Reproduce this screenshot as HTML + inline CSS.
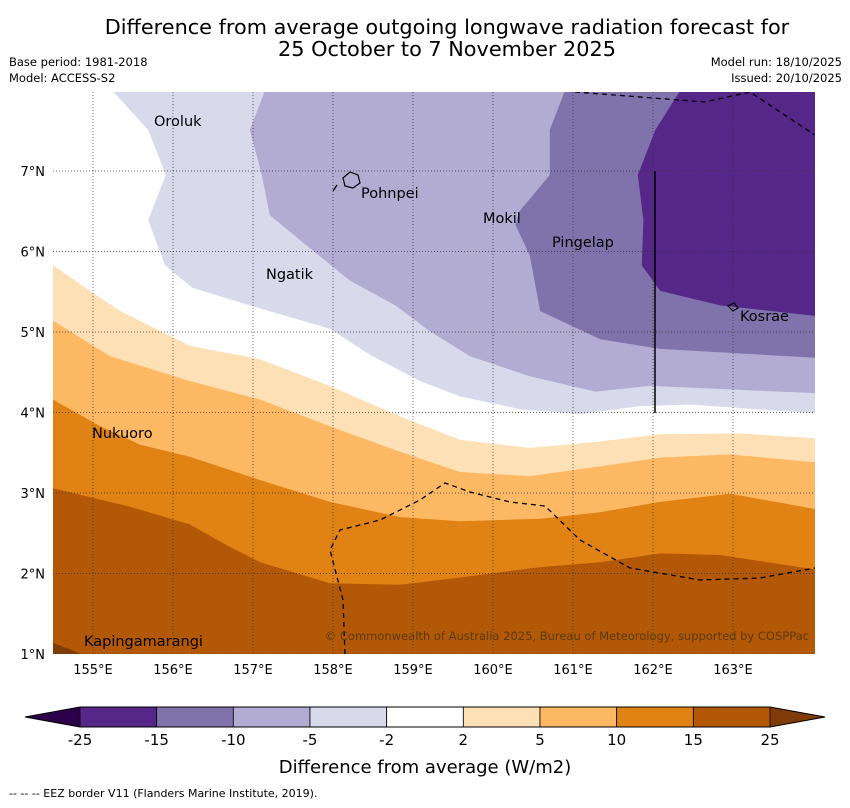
<!DOCTYPE html>
<html><head><meta charset="utf-8"><style>
body{margin:0;background:#fff;font-family:"DejaVu Sans","Liberation Sans",sans-serif;}
svg text{font-family:"DejaVu Sans","Liberation Sans",sans-serif;}
</style></head><body>
<svg id="chart" width="850" height="804" viewBox="0 0 850 804" xmlns="http://www.w3.org/2000/svg">
<text x="447" y="34" font-size="20.8" text-anchor="middle">Difference from average outgoing longwave radiation forecast for</text>
<text x="447" y="56" font-size="20.8" text-anchor="middle">25 October to 7 November 2025</text>
<text x="9" y="66" font-size="11.5">Base period: 1981-2018</text>
<text x="9" y="82" font-size="11.5">Model: ACCESS-S2</text>
<text x="842" y="66" font-size="11.5" text-anchor="end">Model run: 18/10/2025</text>
<text x="842" y="82" font-size="11.5" text-anchor="end">Issued: 20/10/2025</text>
<defs><clipPath id="plotclip"><rect x="53" y="92" width="762" height="562"/></clipPath></defs>
<g id="plot" clip-path="url(#plotclip)">
<rect x="53" y="92" width="762" height="562" fill="#ffffff"/>
<g id="fills"></g>
<g id="grid"></g>
<path d="M575,92 L705,102 L750,92 L815,135" fill="none" stroke="#000" stroke-width="1.3" stroke-dasharray="5,4"/>
<path d="M345,654 L343,600 L330,550 L340,530 L380,520 L420,500 L445,483 L470,492 L510,502 L545,506 L580,540 L630,568 L700,580 L760,578 L815,568" fill="none" stroke="#000" stroke-width="1.3" stroke-dasharray="5,4"/>
<path d="M333,191 L337,185" fill="none" stroke="#000" stroke-width="1.3"/>
<line x1="655" y1="171" x2="655" y2="413" stroke="#000" stroke-width="1.5"/>
<path d="M343,178 L350,172 L358,175 L360,183 L353,188 L345,186 Z" fill="none" stroke="#000" stroke-width="1.2"/>
<path d="M728,306 L734,303 L738,308 L733,311 Z" fill="none" stroke="#000" stroke-width="1.2"/>
<g font-size="14.5">
<text x="154" y="126">Oroluk</text>
<text x="361" y="198">Pohnpei</text>
<text x="483" y="223">Mokil</text>
<text x="552" y="247">Pingelap</text>
<text x="266" y="279">Ngatik</text>
<text x="740" y="321">Kosrae</text>
<text x="92" y="438">Nukuoro</text>
<text x="84" y="646">Kapingamarangi</text>
</g>
<text x="809" y="640" font-size="11.5" text-anchor="end" fill="#5a3a10">© Commonwealth of Australia 2025, Bureau of Meteorology, supported by COSPPac</text>
</g>
<g id="axes"></g>
<g id="colorbar"></g>
<text x="425" y="773" font-size="18" text-anchor="middle">Difference from average (W/m2)</text>
<text x="9" y="797" font-size="11">--  --  -- EEZ border V11 (Flanders Marine Institute, 2019).</text>
</svg>
<script>
const lvlM2Lon=[155.24,155.69,155.91,155.69,155.9,156.24,156.96,157.96,158.49,159.09,159.59,160.34,161.09,161.84,162.46,164.03];
const lvlM2Lat=[8.0,7.51,6.95,6.39,5.83,5.55,5.33,5.04,4.7,4.39,4.2,4.04,3.98,4.08,4.1,3.99];
const lvlM5Lon=[157.15,156.96,157.11,157.21,157.59,158.21,158.78,159.21,159.71,160.46,161.28,161.96,164.03];
const lvlM5Lat=[8.0,7.51,6.95,6.45,6.14,5.64,5.33,5.01,4.7,4.45,4.26,4.33,4.24];
const lvlM10Lon=[160.9,160.71,160.71,160.34,160.28,160.46,160.59,161.34,162.09,164.03];
const lvlM10Lat=[8.0,7.51,6.95,6.51,6.33,5.95,5.26,4.91,4.79,4.68];
const lvlM15Lon=[162.34,162.03,161.81,161.88,161.86,162.09,162.84,164.03];
const lvlM15Lat=[8.0,7.51,6.95,6.39,5.83,5.51,5.33,5.2];
const lvlP2Lon=[154.5,154.96,155.34,156.21,157.09,157.96,158.84,159.59,160.46,161.34,162.09,163.09,164.03];
const lvlP2Lat=[5.83,5.51,5.26,4.83,4.66,4.33,3.95,3.66,3.56,3.64,3.73,3.74,3.68];
const lvlP5Lon=[154.5,155.21,156.21,157.09,157.96,158.84,159.59,160.46,161.34,162.09,162.96,164.03];
const lvlP5Lat=[5.14,4.7,4.39,4.16,3.83,3.51,3.26,3.21,3.33,3.44,3.48,3.38];
const lvlP10Lon=[154.5,155.09,155.59,156.21,157.09,157.96,158.84,159.59,160.59,161.34,162.09,162.96,164.03];
const lvlP10Lat=[4.16,3.83,3.6,3.45,3.16,2.89,2.7,2.65,2.68,2.76,2.89,2.99,2.8];
const lvlP15Lon=[154.5,155.46,156.21,156.71,157.09,157.96,158.84,159.59,160.59,161.34,162.09,162.84,164.03];
const lvlP15Lat=[3.06,2.83,2.61,2.33,2.14,1.88,1.86,1.95,2.08,2.14,2.25,2.23,2.05];
const lvlP25Lon=[154.5,154.96];
const lvlP25Lat=[1.14,0.96];
const lonTicks=[155,156,157,158,159,160,161,162,163];
const latTicks=[1,2,3,4,5,6,7];
const cbLevels=["-25","-15","-10","-5","-2","2","5","10","15","25"];
const cbColors=["#542788","#8073ac","#b2abd2","#d8daeb","#ffffff","#fee0b6","#fdb863","#e08214","#b35806"];

const X=lon=>53+(lon-154.5)*80;
const Y=lat=>171+(7-lat)*80.5;
const NS="http://www.w3.org/2000/svg";
function mk(tag,attrs,parent){const e=document.createElementNS(NS,tag);for(const k in attrs)e.setAttribute(k,attrs[k]);parent.appendChild(e);return e;}
const fills=document.getElementById('fills');
function band(lons,lats,toTop,color,name){
  let d="M"+lons.map((l,i)=>X(l).toFixed(1)+","+Y(lats[i]).toFixed(1)).join(" L");
  const last=X(lons[lons.length-1]), first=X(lons[0]);
  if(toTop){d+=` L${last+40},${Y(lats[lats.length-1])} L${last+40},60 L${first},60 Z`;}
  else{d+=` L${last+40},${Y(lats[lats.length-1])} L${last+40},700 L${first-40},700 L${first-40},${Y(lats[0])} Z`;}
  const p=mk('path',{d:d,fill:color,stroke:'none'},fills);
  
  
}
band(lvlM2Lon,lvlM2Lat,true,cbColors[3],'band-minus2-to-minus5');
band(lvlM5Lon,lvlM5Lat,true,cbColors[2],'band-minus5-to-minus10');
band(lvlM10Lon,lvlM10Lat,true,cbColors[1],'band-minus10-to-minus15');
band(lvlM15Lon,lvlM15Lat,true,cbColors[0],'band-minus15-to-minus25');
band(lvlP2Lon,lvlP2Lat,false,cbColors[5],'band-2-to-5');
band(lvlP5Lon,lvlP5Lat,false,cbColors[6],'band-5-to-10');
band(lvlP10Lon,lvlP10Lat,false,cbColors[7],'band-10-to-15');
band(lvlP15Lon,lvlP15Lat,false,cbColors[8],'band-15-to-25');
band(lvlP25Lon,lvlP25Lat,false,'#7f3b08','band-above-25');

const grid=document.getElementById('grid');
lonTicks.forEach(l=>{const g=mk('line',{x1:X(l),x2:X(l),y1:92,y2:654,stroke:'#333','stroke-width':0.7,'stroke-dasharray':'1,2'},grid);

});
latTicks.forEach(l=>{const g=mk('line',{x1:53,x2:815,y1:Y(l),y2:Y(l),stroke:'#333','stroke-width':0.7,'stroke-dasharray':'1,2'},grid);

});

const axes=document.getElementById('axes');
lonTicks.forEach(l=>{const t=mk('text',{x:X(l),y:674,'font-size':13,'text-anchor':'middle'},axes);t.textContent=l+"°E";

});
latTicks.forEach(l=>{const t=mk('text',{x:45,y:Y(l)+5,'font-size':13,'text-anchor':'end'},axes);t.textContent=l+"°N";

});

const cb=document.getElementById('colorbar');
const cx0=80,cx1=770,cy=707,ch=20,n=cbColors.length,w=(cx1-cx0)/n;
const lt=mk('polygon',{points:`25,${cy+ch/2} ${cx0},${cy} ${cx0},${cy+ch}`,fill:'#2d004b'},cb);


const rt=mk('polygon',{points:`825,${cy+ch/2} ${cx1},${cy} ${cx1},${cy+ch}`,fill:'#7f3b08'},cb);


cbColors.forEach((c,i)=>{const r=mk('rect',{x:cx0+i*w,y:cy,width:w,height:ch,fill:c,stroke:'#000','stroke-width':0.8},cb);

});
mk('polygon',{points:`25,${cy+ch/2} ${cx0},${cy} ${cx1},${cy} 825,${cy+ch/2} ${cx1},${cy+ch} ${cx0},${cy+ch}`,fill:'none',stroke:'#000','stroke-width':1},cb);
cbLevels.forEach((s,i)=>{const t=mk('text',{x:cx0+i*w,y:745,'font-size':15,'text-anchor':'middle'},cb);t.textContent=s;

});
</script>
</body></html>
